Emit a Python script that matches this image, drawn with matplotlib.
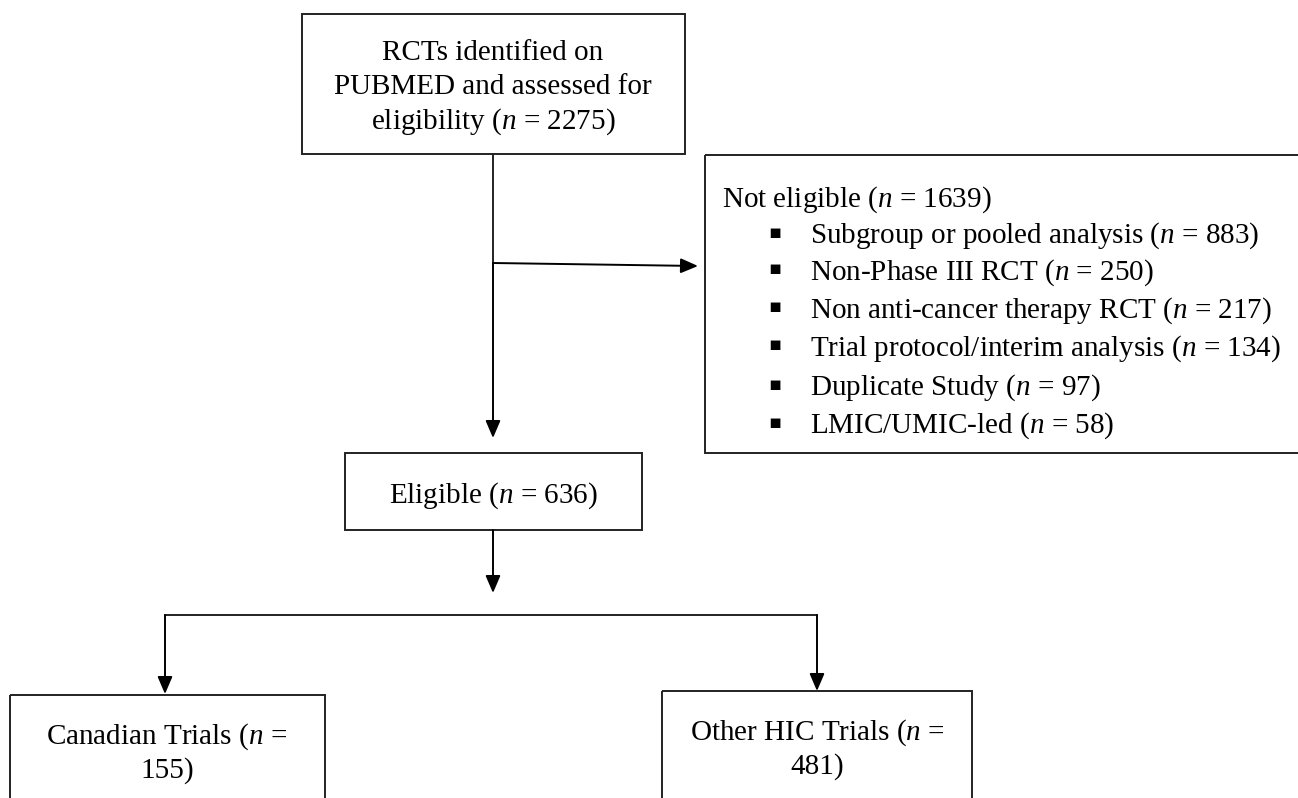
import matplotlib
matplotlib.use("Agg")
import matplotlib.pyplot as plt
from matplotlib.patches import Rectangle

plt.rcParams["font.family"] = ["Liberation Serif", "DejaVu Serif"]
plt.rcParams["mathtext.fontset"] = "custom"
plt.rcParams["mathtext.rm"] = "Liberation Serif"
plt.rcParams["mathtext.it"] = "Liberation Serif:italic"

# flow counts
n_total = 2275
n_eligible = 636
n_not_eligible = 1639
exclusion_reasons = [
    "Subgroup or pooled analysis",
    "Non-Phase III RCT",
    "Non anti-cancer therapy RCT",
    "Trial protocol/interim analysis",
    "Duplicate Study",
    "LMIC/UMIC-led",
]
exclusion_counts = [883, 250, 217, 134, 97, 58]
n_canadian = 155
n_other_hic = 481

LINE = "#222222"
FS = 21


def box(ax, x0, y0, x1, y1):
    ax.add_patch(Rectangle((x0, y0), x1 - x0, y1 - y0, fill=False,
                           edgecolor=LINE, linewidth=1.4))


def arrow(ax, x0, y0, x1, y1):
    ax.annotate("", xy=(x1, y1), xytext=(x0, y0),
                arrowprops=dict(arrowstyle="-|>,head_length=1.05,head_width=0.45",
                                color="black", lw=1.4, shrinkA=0, shrinkB=0))


def lines(ax, x, ys, texts, ha="center"):
    for y, t in zip(ys, texts):
        ax.text(x, y, t, ha=ha, va="center_baseline", fontsize=FS)


fig = plt.figure(figsize=(12.98, 7.98), dpi=100)
ax = fig.add_axes([0, 0, 1, 1])
ax.set_xlim(0, 1298)
ax.set_ylim(798, 0)
ax.axis("off")

# top box
box(ax, 302, 14, 685, 154)
lines(ax, 493, [50, 84, 118],
      ["RCTs identified on", "PUBMED and assessed for",
       "eligibility ($n$ = %d)" % n_total])

# main trunk and side branch
ax.plot([493, 493], [154, 263], color=LINE, lw=1.4)
arrow(ax, 493, 263, 698, 266)
arrow(ax, 493, 263, 493, 438)

# not eligible box
box(ax, 705, 155, 1310, 453)
ax.text(722, 196, "Not eligible ($n$ = %d)" % n_not_eligible,
        ha="left", va="center_baseline", fontsize=FS)
row_y = [232, 269, 307, 345, 384, 422]
for y, reason, cnt in zip(row_y, exclusion_reasons, exclusion_counts):
    ax.text(775, y, "\u25aa", ha="center", va="center", fontsize=14,
            family=["DejaVu Sans"])
    ax.text(810, y, "%s ($n$ = %d)" % (reason, cnt),
            ha="left", va="center_baseline", fontsize=FS)

# eligible box
box(ax, 345, 453, 642, 530)
lines(ax, 493, [492], ["Eligible ($n$ = %d)" % n_eligible])
arrow(ax, 493, 530, 493, 593)

# split
ax.plot([165, 817], [615, 615], color=LINE, lw=1.4)
arrow(ax, 165, 615, 165, 694)
arrow(ax, 817, 615, 817, 691)

# bottom boxes
box(ax, 10, 695, 325, 820)
lines(ax, 167, [733, 767], ["Canadian Trials ($n$ =", "%d)" % n_canadian])
box(ax, 662, 691, 972, 820)
lines(ax, 817, [729, 763], ["Other HIC Trials ($n$ =", "%d)" % n_other_hic])

fig.savefig("out.png", dpi=100, facecolor="white")
